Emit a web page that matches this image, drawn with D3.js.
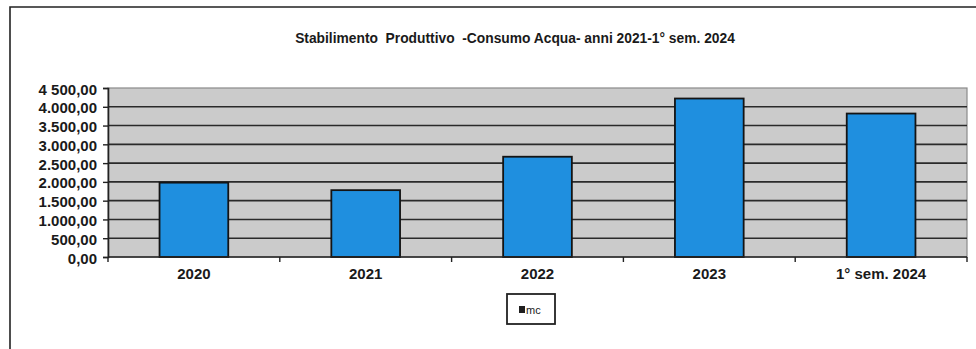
<!DOCTYPE html>
<html>
<head>
<meta charset="utf-8">
<script src="https://cdn.jsdelivr.net/npm/d3@7"></script>
<style>
  html, body { margin: 0; padding: 0; background: #fff; }
  svg { display: block; }
  text { font-family: "Liberation Sans", Arial, sans-serif; fill: #1a1a1a; }
</style>
</head>
<body>
<svg id="chart" width="976" height="349"></svg>
<script>
// Water consumption (mc) of the production site
const categories = ["2020", "2021", "2022", "2023", "1° sem. 2024"];
const consumo = [1980, 1780, 2670, 4220, 3820];
const yTicks = [0, 500, 1000, 1500, 2000, 2500, 3000, 3500, 4000, 4500];
const yTickLabels = ["0,00", "500,00", "1.000,00", "1.500,00", "2.000,00", "2.500,00",
                     "3.000,00", "3.500,00", "4.000,00", "4 500,00"];
const title = "Stabilimento  Produttivo  -Consumo Acqua- anni 2021-1° sem. 2024";
const seriesName = "mc";

const W = 976, H = 349;
const margin = { top: 88, right: 9, bottom: 92, left: 108 };
const innerW = W - margin.left - margin.right;
const innerH = H - margin.top - margin.bottom;

const svg = d3.select("#chart");

// frame of the chart object
svg.append("path")
  .attr("d", `M10,${H} L10,7 L${W},7`)
  .attr("fill", "none").attr("stroke", "#222").attr("stroke-width", 1.6);

svg.append("text")
  .attr("x", 515).attr("y", 43)
  .attr("text-anchor", "middle")
  .attr("font-size", 13.8).attr("font-weight", "bold")
  .attr("xml:space", "preserve")
  .text(title);

const g = svg.append("g").attr("transform", `translate(${margin.left},${margin.top})`);

const x = d3.scaleBand().domain(categories).range([0, innerW]).paddingInner(0.6).paddingOuter(0.3);
const y = d3.scaleLinear().domain([0, 4500]).range([innerH, 0]);

// plot area
g.append("rect")
  .attr("width", innerW).attr("height", innerH)
  .attr("fill", "#cbcbcb").attr("stroke", "#8a8a8a").attr("stroke-width", 1.2);

// horizontal gridlines
g.append("g").selectAll("line")
  .data(yTicks.filter(v => v > 0 && v < 4500))
  .join("line")
  .attr("x1", 0).attr("x2", innerW)
  .attr("y1", d => y(d)).attr("y2", d => y(d))
  .attr("stroke", "#2a2a2a").attr("stroke-width", 1.6);

// bars
g.append("g").selectAll("rect")
  .data(consumo)
  .join("rect")
  .attr("x", (d, i) => x(categories[i]))
  .attr("width", x.bandwidth())
  .attr("y", d => y(d))
  .attr("height", d => innerH - y(d))
  .attr("fill", "#1f8fdf")
  .attr("stroke", "#141414").attr("stroke-width", 1.8);

// y axis
const yAxis = d3.axisLeft(y)
  .tickValues(yTicks)
  .tickFormat((d, i) => yTickLabels[i])
  .tickSize(5).tickPadding(6);
const ya = g.append("g").call(yAxis);
ya.select(".domain").attr("stroke", "#222").attr("stroke-width", 1.6);
ya.selectAll(".tick line").attr("stroke", "#222").attr("stroke-width", 1.4);
ya.selectAll(".tick text")
  .attr("font-size", 15).attr("font-weight", "bold")
  .attr("font-family", "Liberation Sans, Arial, sans-serif")
  .attr("fill", "#1a1a1a").attr("dy", "0.4em");

// x axis: tick marks at category boundaries, labels centred under bars
const xa = g.append("g").attr("transform", `translate(0,${innerH})`);
xa.append("line").attr("x1", 0).attr("x2", innerW)
  .attr("stroke", "#222").attr("stroke-width", 1.6);
const boundaries = d3.range(categories.length + 1).map(i => i * innerW / categories.length);
xa.selectAll("line.tk").data(boundaries).join("line").attr("class", "tk")
  .attr("x1", d => d).attr("x2", d => d).attr("y1", 0).attr("y2", 5)
  .attr("stroke", "#222").attr("stroke-width", 1.4);
xa.selectAll("text").data(categories).join("text")
  .attr("x", d => x(d) + x.bandwidth() / 2)
  .attr("y", 22)
  .attr("text-anchor", "middle")
  .attr("font-size", 15).attr("font-weight", "bold")
  .attr("xml:space", "preserve")
  .text(d => d);

// legend
const lg = svg.append("g").attr("transform", "translate(507,294)");
lg.append("rect").attr("width", 48).attr("height", 30)
  .attr("fill", "#fff").attr("stroke", "#222").attr("stroke-width", 1.8);
lg.append("rect").attr("x", 12).attr("y", 12).attr("width", 6).attr("height", 7)
  .attr("fill", "#1f1f1f");
lg.append("text").attr("x", 19).attr("y", 19.5)
  .attr("font-size", 11).text(seriesName);
</script>
</body>
</html>
